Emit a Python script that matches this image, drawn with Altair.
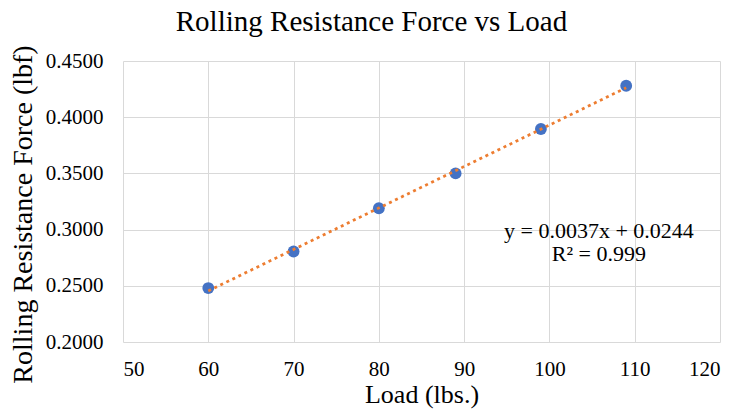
import altair as alt
import pandas as pd

load = [60, 70, 80, 89, 99, 109]
force = [0.248, 0.2805, 0.319, 0.350, 0.3895, 0.428]

eq_text = ["y = 0.0037x + 0.0244", "R² = 0.999"]
eq_x = [105.8, 105.8]
eq_y = [0.2988, 0.2783]

df = pd.DataFrame({"load": load, "force": force})
df_eq = pd.DataFrame({"t": eq_text, "x": eq_x, "y": eq_y})

FONT = "Liberation Serif"

xs = alt.Scale(domain=[50, 120], nice=False, zero=False)
ys = alt.Scale(domain=[0.2, 0.45], nice=False, zero=False)

xaxis = alt.Axis(values=[50, 60, 70, 80, 90, 100, 110, 120], title="Load (lbs.)",
                 labelFontSize=21, titleFontSize=26, labelPadding=16, titlePadding=2,
                 labelFont=FONT, titleFont=FONT, labelColor="#000", titleColor="#000",
                 titleFontWeight="normal", grid=True, gridColor="#D9D9D9",
                 domain=False, ticks=False)
yaxis = alt.Axis(values=[0.2, 0.25, 0.3, 0.35, 0.4, 0.45], format=".4f",
                 title="Rolling Resistance Force (lbf)",
                 labelFontSize=21, titleFontSize=28, labelPadding=20, titlePadding=8,
                 titleY=153,
                 labelFont=FONT, titleFont=FONT, labelColor="#000", titleColor="#000",
                 titleFontWeight="normal", grid=True, gridColor="#D9D9D9",
                 domain=False, ticks=False)

base = alt.Chart(df)

points = base.mark_circle(size=140, color="#4472C4", opacity=1).encode(
    x=alt.X("load:Q", scale=xs, axis=xaxis),
    y=alt.Y("force:Q", scale=ys, axis=yaxis),
)

trend = base.transform_regression("load", "force", method="linear").mark_line(
    color="#ED7D31", strokeWidth=2.75, strokeDash=[3, 3.7]
).encode(
    x=alt.X("load:Q", scale=xs),
    y=alt.Y("force:Q", scale=ys),
)

eq = alt.Chart(df_eq).mark_text(font=FONT, fontSize=22, color="#000", baseline="middle", align="center").encode(
    x=alt.X("x:Q", scale=xs),
    y=alt.Y("y:Q", scale=ys),
    text="t:N",
)

chart = alt.layer(points, trend, eq).properties(
    width=597, height=281,
    title=alt.TitleParams("Rolling Resistance Force vs Load", font=FONT, fontSize=29,
                          fontWeight="normal", color="#000", anchor="middle", dx=-50, dy=14,
                          offset=22),
    autosize=alt.AutoSizeParams(type="none"),
    padding={"left": 115, "top": 53, "right": 9, "bottom": 67},
).configure_view(stroke=None)

chart.save("out.html", embed_options={"renderer": "svg", "actions": False})
